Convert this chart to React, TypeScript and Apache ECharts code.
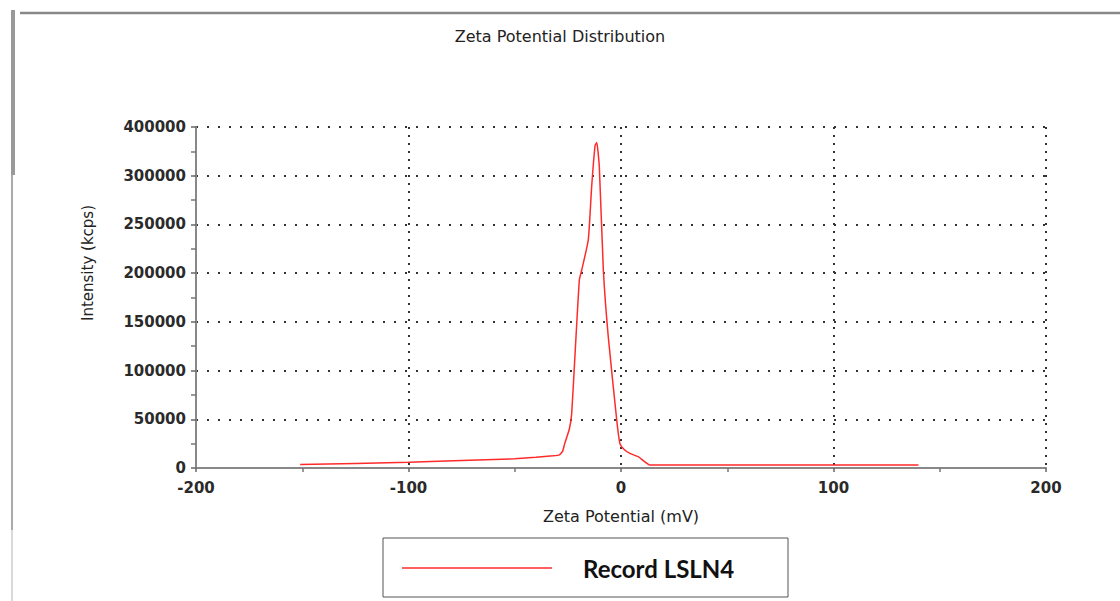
import React, { useEffect, useRef } from "react";
import * as echarts from "echarts";

// Zeta potential (mV) and intensity (kcps)
const zetaPotential = [-151, -100, -50, -40, -32, -29, -27.5, -26.5, -24.3, -23.2, -21.6, -19.6, -18.5, -15.4, -13.8, -12.2, -11.4, -10.2, -8.3, -6.0, -2.0, -0.5, 1.5, 4.2, 8.1, 13.6, 23, 60, 100, 140];
const intensity = [3500, 6000, 9500, 11000, 12500, 13500, 17000, 25000, 40000, 56000, 118000, 193000, 203000, 234000, 289000, 331000, 334000, 309000, 203000, 135000, 49000, 25000, 19000, 15000, 11600, 3000, 3000, 3000, 3000, 3000];

const seriesName = "Record LSLN4";
const chartTitle = "Zeta Potential Distribution";
const xAxisName = "Zeta Potential (mV)";
const yAxisName = "Intensity (kcps)";
// The reference labels its top gridline "400000"
const yTickLabels: Record<number, string> = { 350000: "400000" };

export default function App() {
  const ref = useRef<HTMLDivElement>(null);
  useEffect(() => {
    if (!ref.current) return;
    const chart = echarts.init(ref.current, undefined, { renderer: "svg" });
    const data = zetaPotential.map((x, i) => [x, intensity[i]]);
    const font = "DejaVu Sans";
    chart.setOption({
      animation: false,
      backgroundColor: "#ffffff",
      title: {
        text: chartTitle,
        left: "center",
        top: 28,
        padding: 0,
        textStyle: { fontFamily: font, fontSize: 16, fontWeight: "normal", color: "#222" },
      },
      grid: { left: 196, right: 74, top: 127, bottom: 133, containLabel: false },
      legend: {
        left: 402,
        top: 556,
        padding: 0,
        itemWidth: 150,
        itemHeight: 14,
        itemGap: 0,
        textStyle: {
          fontFamily: "Lato",
          fontWeight: "bold",
          fontSize: 24,
          color: "#111",
          padding: [0, 0, 0, 26],
        },
        data: [{ name: seriesName, icon: "path://M0,0L150,0L150,1.5L0,1.5Z" }],
      },
      xAxis: {
        type: "value",
        min: -200,
        max: 200,
        interval: 100,
        name: xAxisName,
        nameLocation: "middle",
        nameGap: 40,
        nameTextStyle: { fontFamily: font, fontSize: 16, color: "#222" },
        axisLine: { show: true, onZero: false, lineStyle: { color: "#888", width: 2 } },
        axisTick: { show: true, length: 4, lineStyle: { color: "#666", width: 1.5 } },
        minorTick: { show: true, splitNumber: 2, length: 4, lineStyle: { color: "#777", width: 1.5 } },
        axisLabel: { margin: 12, fontFamily: font, fontSize: 15, fontWeight: "bold", color: "#2a2a2a" },
        splitLine: { show: true, lineStyle: { color: "#333", width: 2, type: [2, 6] } },
      },
      yAxis: {
        type: "value",
        min: 0,
        max: 350000,
        interval: 50000,
        axisLine: { show: true, onZero: false, lineStyle: { color: "#888", width: 2 } },
        axisTick: { show: true, length: 5, lineStyle: { color: "#666", width: 1.5 } },
        minorTick: { show: true, splitNumber: 2, length: 5, lineStyle: { color: "#777", width: 1.5 } },
        axisLabel: {
          margin: 10,
          fontFamily: font,
          fontSize: 15,
          fontWeight: "bold",
          color: "#2a2a2a",
          formatter: (v: number) => yTickLabels[v] ?? String(v),
        },
        splitLine: { show: true, lineStyle: { color: "#333", width: 2, type: [2, 9] } },
      },
      series: [
        {
          name: seriesName,
          type: "line",
          data,
          symbol: "none",
          smooth: 0.15,
          lineStyle: { color: "#ff2a2a", width: 1.5 },
          itemStyle: { color: "#ff2a2a" },
        },
      ],
      graphic: [
        { type: "line", shape: { x1: 20, y1: 13, x2: 1120, y2: 13 }, style: { stroke: "#888", lineWidth: 2.5 } },
        { type: "line", shape: { x1: 13, y1: 10, x2: 13, y2: 175 }, style: { stroke: "#999", lineWidth: 4 } },
        { type: "line", shape: { x1: 12, y1: 175, x2: 12, y2: 530 }, style: { stroke: "#aaa", lineWidth: 2 } },
        { type: "line", shape: { x1: 12, y1: 530, x2: 12, y2: 601 }, style: { stroke: "#ccc", lineWidth: 1.5 } },
        {
          type: "text",
          x: 88,
          y: 263,
          rotation: Math.PI / 2,
          style: {
            text: yAxisName,
            fontFamily: font,
            fontSize: 15,
            fill: "#222",
            align: "center",
            verticalAlign: "middle",
          },
        },
        {
          type: "rect",
          shape: { x: 383, y: 538, width: 405, height: 59 },
          style: { fill: "none", stroke: "#555", lineWidth: 1 },
          z: 0,
        },
      ],
    });
    return () => chart.dispose();
  }, []);
  return <div ref={ref} style={{ position: "fixed", left: 0, top: 0, width: 1120, height: 601 }} />;
}
